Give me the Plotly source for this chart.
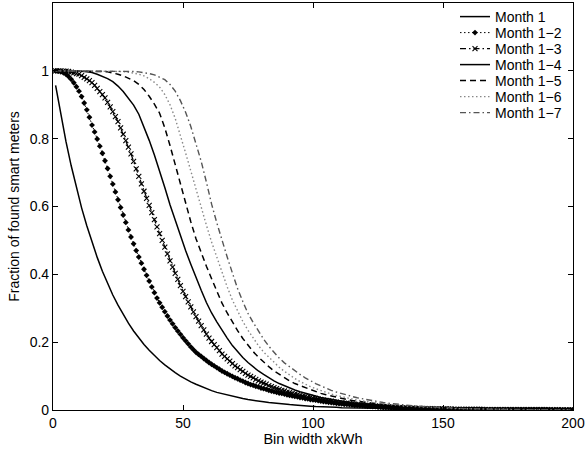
import plotly.graph_objects as go

# ---------------- data ----------------
# line-only series sampled at x = 1, 3, 5, ..., 199
x_odd = list(range(1, 200, 2))
# marker series sampled at x = 1, 2, ..., 200
x_all = list(range(1, 201))

series_names = ["Month 1", "Month 1\u22122", "Month 1\u22123", "Month 1\u22124",
                "Month 1\u22125", "Month 1\u22126", "Month 1\u22127"]

month_1 = [
    0.957, 0.868, 0.791, 0.720, 0.655, 0.596, 0.543, 0.494, 0.450, 0.409,
    0.373, 0.339, 0.309, 0.281, 0.256, 0.233, 0.212, 0.193, 0.176, 0.160,
    0.146, 0.133, 0.121, 0.110, 0.100, 0.091, 0.083, 0.076, 0.069, 0.063,
    0.057, 0.052, 0.048, 0.044, 0.040, 0.037, 0.034, 0.031, 0.028, 0.026,
    0.024, 0.022, 0.020, 0.019, 0.017, 0.016, 0.015, 0.013, 0.012, 0.011,
    0.010, 0.010, 0.009, 0.008, 0.008, 0.007, 0.007, 0.006, 0.006, 0.006,
    0.005, 0.005, 0.005, 0.004, 0.004, 0.004, 0.004, 0.003, 0.003, 0.003,
    0.003, 0.003, 0.002, 0.002, 0.002, 0.002, 0.002, 0.002, 0.002, 0.002,
    0.001, 0.001, 0.001, 0.001, 0.001, 0.001, 0.001, 0.001, 0.001, 0.001,
    0.001, 0.001, 0.001, 0.001, 0.001, 0.000, 0.000, 0.000, 0.000, 0.000,
]

month_1_2 = [
    1.000, 0.999, 0.997, 0.994, 0.990, 0.983, 0.975, 0.965, 0.953, 0.940,
    0.924, 0.905, 0.885, 0.863, 0.840, 0.820, 0.799, 0.778, 0.757, 0.735,
    0.712, 0.689, 0.666, 0.643, 0.620, 0.597, 0.575, 0.553, 0.531, 0.510,
    0.490, 0.470, 0.451, 0.433, 0.415, 0.397, 0.380, 0.363, 0.346, 0.330,
    0.316, 0.303, 0.290, 0.277, 0.265, 0.254, 0.243, 0.233, 0.223, 0.213,
    0.204, 0.195, 0.186, 0.178, 0.170, 0.164, 0.158, 0.152, 0.146, 0.140,
    0.135, 0.130, 0.125, 0.120, 0.115, 0.111, 0.107, 0.103, 0.099, 0.095,
    0.092, 0.088, 0.085, 0.081, 0.078, 0.075, 0.073, 0.070, 0.068, 0.065,
    0.063, 0.061, 0.058, 0.056, 0.054, 0.052, 0.050, 0.049, 0.047, 0.045,
    0.043, 0.042, 0.040, 0.039, 0.037, 0.036, 0.034, 0.033, 0.031, 0.030,
    0.029, 0.028, 0.026, 0.025, 0.024, 0.023, 0.022, 0.021, 0.020, 0.019,
    0.018, 0.017, 0.017, 0.016, 0.015, 0.014, 0.014, 0.013, 0.013, 0.012,
    0.011, 0.011, 0.010, 0.010, 0.009, 0.009, 0.008, 0.008, 0.008, 0.007,
    0.007, 0.007, 0.006, 0.006, 0.006, 0.005, 0.005, 0.005, 0.005, 0.004,
    0.004, 0.004, 0.004, 0.004, 0.003, 0.003, 0.003, 0.003, 0.003, 0.003,
    0.002, 0.002, 0.002, 0.002, 0.002, 0.002, 0.002, 0.002, 0.002, 0.002,
    0.002, 0.002, 0.002, 0.002, 0.002, 0.001, 0.001, 0.001, 0.001, 0.001,
    0.001, 0.001, 0.001, 0.001, 0.001, 0.001, 0.001, 0.001, 0.001, 0.001,
    0.001, 0.001, 0.001, 0.001, 0.001, 0.001, 0.001, 0.001, 0.001, 0.001,
    0.001, 0.001, 0.001, 0.001, 0.001, 0.000, 0.000, 0.000, 0.000, 0.000,
]

month_1_3 = [
    1.000, 1.000, 1.000, 0.999, 0.999, 0.998, 0.996, 0.994, 0.992, 0.990,
    0.986, 0.981, 0.976, 0.971, 0.965, 0.957, 0.948, 0.939, 0.930, 0.920,
    0.907, 0.894, 0.880, 0.865, 0.850, 0.832, 0.813, 0.794, 0.775, 0.755,
    0.733, 0.711, 0.689, 0.667, 0.645, 0.624, 0.603, 0.582, 0.561, 0.540,
    0.520, 0.500, 0.480, 0.460, 0.440, 0.421, 0.403, 0.385, 0.367, 0.350,
    0.334, 0.319, 0.304, 0.289, 0.275, 0.262, 0.249, 0.236, 0.224, 0.212,
    0.202, 0.193, 0.184, 0.175, 0.165, 0.158, 0.151, 0.144, 0.137, 0.130,
    0.125, 0.119, 0.114, 0.108, 0.103, 0.099, 0.095, 0.090, 0.086, 0.082,
    0.079, 0.076, 0.072, 0.069, 0.066, 0.063, 0.061, 0.058, 0.056, 0.053,
    0.051, 0.049, 0.047, 0.045, 0.043, 0.041, 0.040, 0.038, 0.037, 0.035,
    0.034, 0.032, 0.031, 0.029, 0.028, 0.027, 0.026, 0.024, 0.023, 0.022,
    0.021, 0.020, 0.020, 0.019, 0.018, 0.017, 0.016, 0.016, 0.015, 0.014,
    0.013, 0.013, 0.012, 0.012, 0.011, 0.010, 0.010, 0.009, 0.009, 0.008,
    0.008, 0.007, 0.007, 0.007, 0.006, 0.006, 0.006, 0.005, 0.005, 0.005,
    0.005, 0.004, 0.004, 0.004, 0.004, 0.004, 0.003, 0.003, 0.003, 0.003,
    0.003, 0.003, 0.003, 0.002, 0.002, 0.002, 0.002, 0.002, 0.002, 0.002,
    0.002, 0.002, 0.002, 0.002, 0.002, 0.001, 0.001, 0.001, 0.001, 0.001,
    0.001, 0.001, 0.001, 0.001, 0.001, 0.001, 0.001, 0.001, 0.001, 0.001,
    0.001, 0.001, 0.001, 0.001, 0.001, 0.001, 0.001, 0.001, 0.001, 0.001,
    0.000, 0.000, 0.000, 0.000, 0.000, 0.000, 0.000, 0.000, 0.000, 0.000,
]

month_1_4 = [
    1.000, 1.000, 1.000, 1.000, 0.999, 0.999, 0.997, 0.995, 0.990, 0.984,
    0.977, 0.968, 0.955, 0.939, 0.920, 0.899, 0.872, 0.835, 0.795, 0.752,
    0.706, 0.656, 0.605, 0.558, 0.512, 0.470, 0.430, 0.390, 0.353, 0.317,
    0.286, 0.260, 0.235, 0.212, 0.190, 0.172, 0.155, 0.140, 0.127, 0.115,
    0.105, 0.095, 0.086, 0.078, 0.071, 0.065, 0.059, 0.054, 0.049, 0.045,
    0.041, 0.037, 0.034, 0.031, 0.028, 0.026, 0.023, 0.021, 0.019, 0.018,
    0.016, 0.015, 0.013, 0.012, 0.011, 0.010, 0.009, 0.008, 0.007, 0.007,
    0.006, 0.006, 0.005, 0.005, 0.004, 0.004, 0.003, 0.003, 0.003, 0.002,
    0.002, 0.002, 0.002, 0.002, 0.001, 0.001, 0.001, 0.001, 0.001, 0.001,
    0.001, 0.001, 0.001, 0.001, 0.001, 0.000, 0.000, 0.000, 0.000, 0.000,
]

month_1_5 = [
    1.000, 1.000, 1.000, 1.000, 1.000, 1.000, 1.000, 1.000, 0.999, 0.998,
    0.997, 0.994, 0.990, 0.985, 0.979, 0.971, 0.960, 0.945, 0.925, 0.902,
    0.875, 0.832, 0.780, 0.722, 0.664, 0.608, 0.555, 0.505, 0.463, 0.424,
    0.387, 0.350, 0.315, 0.286, 0.258, 0.234, 0.211, 0.190, 0.172, 0.156,
    0.141, 0.128, 0.115, 0.105, 0.095, 0.086, 0.078, 0.072, 0.065, 0.060,
    0.054, 0.049, 0.045, 0.041, 0.037, 0.034, 0.031, 0.028, 0.026, 0.023,
    0.021, 0.019, 0.017, 0.015, 0.014, 0.012, 0.011, 0.010, 0.009, 0.008,
    0.008, 0.007, 0.007, 0.006, 0.005, 0.005, 0.004, 0.004, 0.004, 0.003,
    0.003, 0.003, 0.002, 0.002, 0.002, 0.002, 0.002, 0.001, 0.001, 0.001,
    0.001, 0.001, 0.001, 0.001, 0.001, 0.001, 0.001, 0.000, 0.000, 0.000,
]

month_1_6 = [
    1.000, 1.000, 1.000, 1.000, 1.000, 1.000, 1.000, 1.000, 1.000, 1.000,
    1.000, 1.000, 0.999, 0.998, 0.996, 0.994, 0.990, 0.985, 0.977, 0.966,
    0.952, 0.930, 0.900, 0.860, 0.811, 0.758, 0.705, 0.650, 0.597, 0.545,
    0.495, 0.450, 0.405, 0.363, 0.324, 0.290, 0.261, 0.235, 0.212, 0.190,
    0.171, 0.155, 0.140, 0.126, 0.114, 0.103, 0.093, 0.084, 0.076, 0.069,
    0.063, 0.057, 0.052, 0.047, 0.043, 0.039, 0.035, 0.032, 0.029, 0.027,
    0.024, 0.022, 0.020, 0.018, 0.016, 0.015, 0.013, 0.012, 0.011, 0.010,
    0.009, 0.008, 0.007, 0.007, 0.006, 0.005, 0.005, 0.004, 0.004, 0.004,
    0.003, 0.003, 0.003, 0.002, 0.002, 0.002, 0.002, 0.002, 0.001, 0.001,
    0.001, 0.001, 0.001, 0.001, 0.001, 0.001, 0.001, 0.001, 0.000, 0.000,
]

month_1_7 = [
    1.000, 1.000, 1.000, 1.000, 1.000, 1.000, 1.000, 1.000, 1.000, 1.000,
    1.000, 1.000, 1.000, 1.000, 0.999, 0.998, 0.997, 0.995, 0.992, 0.988,
    0.982, 0.974, 0.960, 0.940, 0.912, 0.878, 0.836, 0.788, 0.733, 0.672,
    0.607, 0.552, 0.500, 0.451, 0.404, 0.358, 0.320, 0.285, 0.258, 0.232,
    0.209, 0.188, 0.170, 0.153, 0.139, 0.127, 0.115, 0.105, 0.095, 0.086,
    0.078, 0.071, 0.064, 0.058, 0.053, 0.048, 0.044, 0.040, 0.036, 0.033,
    0.029, 0.027, 0.024, 0.022, 0.020, 0.018, 0.016, 0.015, 0.013, 0.012,
    0.011, 0.010, 0.009, 0.008, 0.007, 0.006, 0.006, 0.005, 0.005, 0.004,
    0.004, 0.003, 0.003, 0.003, 0.002, 0.002, 0.002, 0.002, 0.002, 0.001,
    0.001, 0.001, 0.001, 0.001, 0.001, 0.001, 0.001, 0.001, 0.001, 0.000,
]

x_ticks = [0, 50, 100, 150, 200]
y_ticks = [0, 0.2, 0.4, 0.6, 0.8, 1]
y_tick_text = ["0", "0.2", "0.4", "0.6", "0.8", "1"]

# ---------------- figure ----------------
FONT = "Liberation Sans, Arial, Helvetica, sans-serif"
W, H = 585, 452
M_L, M_R, M_T, M_B = 53, 12, 3, 42
fig = go.Figure()

legend_ids = ["legend", "legend2", "legend3", "legend4", "legend5", "legend6", "legend7"]

fig.add_trace(go.Scatter(x=x_odd, y=month_1, name=series_names[0], mode="lines",
                         legend=legend_ids[0],
                         line=dict(color="black", width=1.5)))
fig.add_trace(go.Scatter(x=x_all, y=month_1_2, name=series_names[1], mode="lines+markers",
                         legend=legend_ids[1],
                         line=dict(color="black", width=1, dash="1.5px,2.5px"),
                         marker=dict(symbol="diamond", size=4.5, color="black")))
fig.add_trace(go.Scatter(x=x_all, y=month_1_3, name=series_names[2], mode="lines+markers",
                         legend=legend_ids[2],
                         line=dict(color="black", width=1.2, dash="6px,3px,1.5px,3px"),
                         marker=dict(symbol="x-thin-open", size=5,
                                     line=dict(color="black", width=1.1), color="black")))
fig.add_trace(go.Scatter(x=x_odd, y=month_1_4, name=series_names[3], mode="lines",
                         legend=legend_ids[3],
                         line=dict(color="black", width=1.5)))
fig.add_trace(go.Scatter(x=x_odd, y=month_1_5, name=series_names[4], mode="lines",
                         legend=legend_ids[4],
                         line=dict(color="black", width=1.5, dash="6px,4px")))
fig.add_trace(go.Scatter(x=x_odd, y=month_1_6, name=series_names[5], mode="lines",
                         legend=legend_ids[5],
                         line=dict(color="#888888", width=1.4, dash="1.5px,2.5px")))
fig.add_trace(go.Scatter(x=x_odd, y=month_1_7, name=series_names[6], mode="lines",
                         legend=legend_ids[6],
                         line=dict(color="#555555", width=1.4, dash="6px,3px,1.5px,3px")))

axis_common = dict(showline=True, linecolor="black", linewidth=1.2, mirror="ticks",
                   ticks="inside", ticklen=5, tickwidth=1, tickcolor="black",
                   showgrid=False, zeroline=False,
                   tickfont=dict(family=FONT, size=14, color="black"))

fig.update_xaxes(range=[0, 200], tickvals=x_ticks, ticktext=[str(t) for t in x_ticks],
                 title=dict(text="Bin width xkWh", font=dict(family=FONT, size=14.5, color="black"),
                            standoff=1),
                 **axis_common)
fig.update_yaxes(range=[0, 1.2], tickvals=y_ticks, ticktext=y_tick_text,
                 title=dict(text="Fraction of found smart meters",
                            font=dict(family=FONT, size=14, color="black"), standoff=6),
                 **axis_common)

# one legend box per entry so that the rows can sit 16 px apart like the reference
plot_h = H - M_T - M_B
plot_w = W - M_L - M_R
legend_left_px = 455
first_row_px = 17
row_step_px = 16
legend_layout = {}
for i, lid in enumerate(legend_ids):
    row_px = first_row_px + i * row_step_px
    legend_layout[lid] = dict(
        x=(legend_left_px - M_L) / plot_w, xanchor="left",
        y=(H - M_B - row_px) / plot_h, yanchor="middle",
        bgcolor="rgba(0,0,0,0)", borderwidth=0,
        font=dict(family=FONT, size=14, color="black"),
        itemwidth=30,
    )

fig.update_layout(
    width=W, height=H,
    margin=dict(l=M_L, r=M_R, t=M_T, b=M_B, autoexpand=False),
    paper_bgcolor="white", plot_bgcolor="white",
    font=dict(family=FONT, color="black"),
    showlegend=True,
    **legend_layout,
)

fig.write_html("out.html", config={"displayModeBar": False},
               post_script="document.body.style.margin='0';document.body.style.padding='0';")
